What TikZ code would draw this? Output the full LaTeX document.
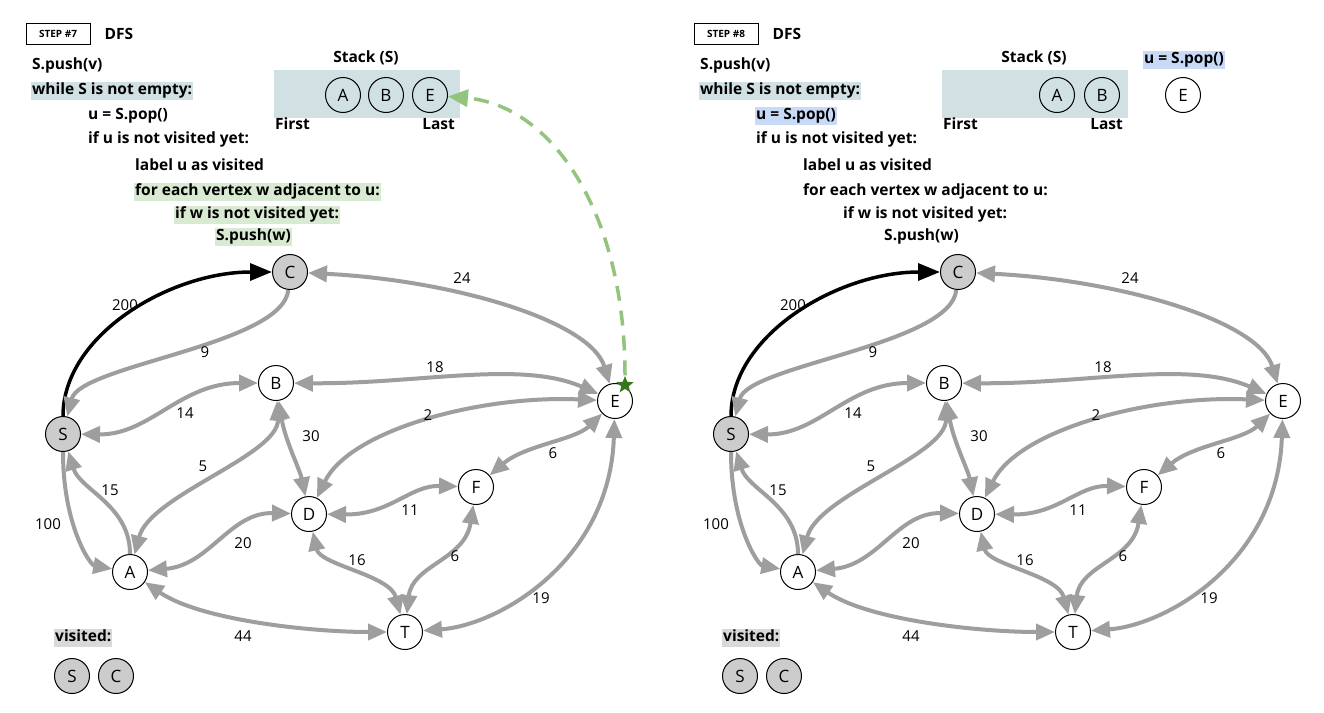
\documentclass[tikz,border=0pt]{standalone}
\usepackage{fontspec}
\setmainfont{Open Sans}
\usetikzlibrary{arrows.meta,shapes.geometric}
\definecolor{edgegray}{HTML}{9E9E9E}
\definecolor{nodegray}{HTML}{CCCCCC}
\definecolor{stackbg}{HTML}{D0E0E3}
\definecolor{greenhl}{HTML}{D9EAD3}
\definecolor{bluehl}{HTML}{C9DAF8}
\definecolor{grayhl}{HTML}{D9D9D9}
\definecolor{dashgreen}{HTML}{93C47D}
\definecolor{stargreen}{HTML}{38761D}
\tikzset{
  vert/.style={circle,draw,line width=1pt,minimum size=35pt,inner sep=0pt,fill=white,font=\fontsize{17}{17}\selectfont},
  vis/.style={vert,fill=nodegray},
  svert/.style={circle,draw,line width=1pt,minimum size=35pt,inner sep=0pt,font=\fontsize{17}{17}\selectfont},
  gedge/.style={draw=edgegray,line width=4pt,>={Triangle[length=19pt,width=16pt]}},
  bedge/.style={draw=black,line width=3.5pt,-{Triangle[length=22pt,width=17pt]}},
  elab/.style={font=\fontsize{15}{15}\selectfont,inner sep=0pt},
  code/.style={font=\bfseries\fontsize{15.5}{15.5}\selectfont,anchor=west,inner sep=1pt,text height=11.5pt,text depth=4pt},
  stepbox/.style={draw,line width=1pt,minimum width=64pt,minimum height=21pt,inner sep=0pt,font=\bfseries\fontsize{10}{10}\selectfont},
}
\newcommand\DrawGraph[1]{%
  \node[vis] (#1C) at (290,272) {C};
  \node[vert] (#1B) at (276,383) {B};
  \node[vis] (#1S) at (63,434) {S};
  \node[vert] (#1E) at (615,401) {E};
  \node[vert] (#1F) at (476,487) {F};
  \node[vert] (#1D) at (309,514) {D};
  \node[vert] (#1A) at (130,572) {A};
  \node[vert] (#1T) at (405,632) {T};
  \draw[bedge] (#1S) .. controls (63,335) and (170,272) .. (#1C);
  \draw[gedge,->] (#1C) .. controls (283,345) and (80,365) .. (#1S);
  \draw[gedge,<->] (#1C) .. controls (450,280) and (590,320) .. (#1E);
  \draw[gedge,<->] (#1B) .. controls (420,384) and (520,360) .. (#1E);
  \draw[gedge,<->] (#1S) .. controls (150,435) and (180,383) .. (#1B);
  \draw[gedge,<->] (#1A) .. controls (150,495) and (280,455) .. (#1B);
  \draw[gedge,<->] (#1B) .. controls (285,440) and (300,470) .. (#1D);
  \draw[gedge,<->] (#1D) .. controls (350,430) and (480,395) .. (#1E);
  \draw[gedge,<->] (#1E) .. controls (575,440) and (525,445) .. (#1F);
  \draw[gedge,<->] (#1D) .. controls (390,515) and (410,485) .. (#1F);
  \draw[gedge,<->] (#1A) .. controls (210,565) and (230,512) .. (#1D);
  \draw[gedge,->] (#1A) .. controls (130,505) and (80,490) .. (#1S);
  \draw[gedge,->] (#1S) .. controls (63,525) and (90,565) .. (#1A);
  \draw[gedge,<->] (#1D) .. controls (320,565) and (390,575) .. (#1T);
  \draw[gedge,<->] (#1F) .. controls (465,560) and (412,565) .. (#1T);
  \draw[gedge,<->] (#1E) .. controls (610,560) and (500,625) .. (#1T);
  \draw[gedge,<->] (#1A) .. controls (200,620) and (310,632) .. (#1T);
  \node[elab] (#1l200) at (125,305) {200};
  \node[elab] (#1l9) at (205,352) {9};
  \node[elab] (#1l24) at (462,278) {24};
  \node[elab] (#1l18) at (435,367) {18};
  \node[elab] (#1l14) at (185,413) {14};
  \node[elab] (#1l5) at (203,466) {5};
  \node[elab] (#1l30) at (311,436) {30};
  \node[elab] (#1l2) at (428,415) {2};
  \node[elab] (#1l6a) at (553,453) {6};
  \node[elab] (#1l11) at (410,510) {11};
  \node[elab] (#1l20) at (243,543) {20};
  \node[elab] (#1l15) at (110,490) {15};
  \node[elab] (#1l100) at (48,524) {100};
  \node[elab] (#1l16) at (357,560) {16};
  \node[elab] (#1l6b) at (455,556) {6};
  \node[elab] (#1l19) at (541,598) {19};
  \node[elab] (#1l44) at (243,636) {44};
  \node[code,fill=grayhl] (#1vis) at (54,638) {visited:};
  \node[vis] (#1vS) at (72,676) {S};
  \node[vis] (#1vC) at (116,676) {C};
  \node[code,fill=stackbg] (#1while) at (31,91) {while S is not empty:};
  \node[code] (#1push) at (31,66) {S.push(v)};
  \node[code] (#1ifu) at (87,140) {if u is not visited yet:};
  \node[code] (#1label) at (134,167) {label u as visited};
  \fill[stackbg] (274,70) rectangle (460,118);
  \node[font=\bfseries\fontsize{15.5}{15.5}\selectfont] (#1stk) at (366,58) {Stack (S)};
  \node[code] (#1first) at (274,126) {First};
  \node[code,anchor=east] (#1last) at (456,126) {Last};
  \node[font=\bfseries\fontsize{15.5}{15.5}\selectfont,anchor=west] (#1dfs) at (101,34) {DFS};
}
\begin{document}
\begin{tikzpicture}[x=1pt,y=-1pt]
\useasboundingbox (0,0) rectangle (1324,712);
\fill[white] (0,0) rectangle (1324,712);
% ---------- left panel: step 7
\DrawGraph{L}
\node[stepbox] (Lstep) at (58,33.5) {STEP \#7};
\node[code] (Lpop) at (87,116) {u = S.pop()};
\node[code,fill=greenhl] (Lfor) at (134,192) {for each vertex w adjacent to u:};
\node[code,fill=greenhl] (Lifw) at (174,215) {if w is not visited yet:};
\node[code,fill=greenhl] (Lpw) at (215,237) {S.push(w)};
\node[svert] (LsA) at (343,95) {A};
\node[svert] (LsB) at (386,95) {B};
\node[svert] (LsE) at (430,95) {E};
\node[star,star points=5,star point ratio=2.3,fill=stargreen,minimum size=18pt,inner sep=0pt] (Lstar) at (625,385) {};
\draw[dashgreen,line width=3.5pt,dash pattern=on 15pt off 10pt,-{Triangle[length=20pt,width=17pt]}] (Lstar) .. controls (625,210) and (550,105) .. (LsE);
% ---------- right panel: step 8
\begin{scope}[xshift=668pt]
\DrawGraph{R}
\node[stepbox] (Rstep) at (58,33.5) {STEP \#8};
\node[code,fill=bluehl] (Rpop) at (87,116) {u = S.pop()};
\node[code] (Rfor) at (134,192) {for each vertex w adjacent to u:};
\node[code] (Rifw) at (174,215) {if w is not visited yet:};
\node[code] (Rpw) at (215,237) {S.push(w)};
\node[svert] (RsA) at (389,95) {A};
\node[svert] (RsB) at (434,95) {B};
\node[code,fill=bluehl,anchor=center] (Rpop2) at (516,60) {u = S.pop()};
\node[vert] (RpE) at (515,95) {E};
\end{scope}
\end{tikzpicture}
\end{document}
